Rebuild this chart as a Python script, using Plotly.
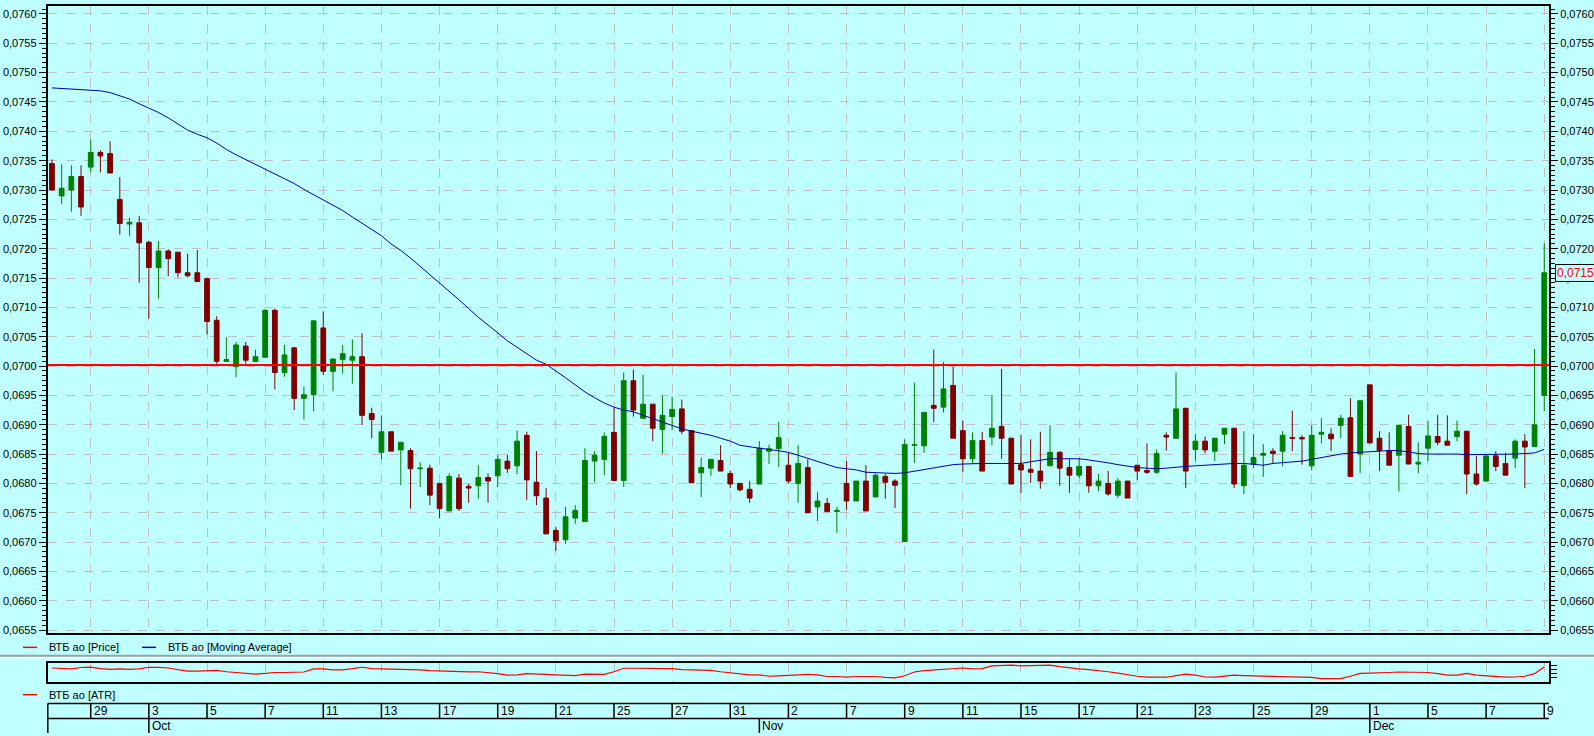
import plotly.graph_objects as go

# ---------------- data (prices in units of 1e-5) ----------------
open_e5 = [7345, 7290, 7300, 7323, 7339, 7364, 7362, 7284, 7242, 7244,
           7211, 7168, 7196, 7194, 7159, 7159, 7149, 7078, 7008, 6999,
           7034, 7008, 7015, 7095, 6989, 7031, 6945, 6951, 7065, 6991,
           7011, 7010, 7016, 6919, 6853, 6888, 6857, 6856, 6825, 6826,
           6800, 6753, 6809, 6795, 6796, 6810, 6813, 6838, 6830, 6882,
           6802, 6775, 6720, 6704, 6741, 6735, 6838, 6841, 6887, 6805,
           6975, 6911, 6935, 6892, 6914, 6927, 6890, 6818, 6826, 6839,
           6817, 6800, 6790, 6799, 6855, 6859, 6831, 6800, 6827, 6760,
           6766, 6752, 6800, 6770, 6804, 6777, 6812, 6804, 6701, 6865,
           6864, 6933, 6930, 6967, 6890, 6842, 6873, 6879, 6897, 6877,
           6832, 6824, 6821, 6830, 6853, 6827, 6814, 6829, 6796, 6800,
           6780, 6804, 6831, 6822, 6819, 6882, 6877, 6928, 6858, 6872,
           6855, 6884, 6894, 6796, 6833, 6848, 6855, 6855, 6878, 6878,
           6830, 6884, 6884, 6899, 6912, 6850, 6968, 6877, 6856, 6848,
           6897, 6833, 6860, 6880, 6872, 6880, 6889, 6816, 6804, 6847,
           6834, 6843, 6872, 6863, 6950]
high_e5 = [7352, 7344, 7342, 7342, 7386, 7368, 7383, 7322, 7253, 7256,
           7213, 7213, 7199, 7194, 7191, 7198, 7149, 7085, 7049, 7041,
           7041, 7028, 7097, 7098, 7036, 7032, 6965, 7078, 7093, 7012,
           7036, 7045, 7056, 6929, 6916, 6888, 6870, 6860, 6836, 6832,
           6800, 6817, 6816, 6799, 6831, 6817, 6849, 6849, 6890, 6888,
           6855, 6792, 6726, 6760, 6763, 6860, 6855, 6887, 6929, 6989,
           6994, 6985, 6935, 6950, 6948, 6943, 6890, 6844, 6841, 6865,
           6822, 6801, 6804, 6872, 6866, 6905, 6853, 6865, 6841, 6785,
           6775, 6760, 6838, 6804, 6831, 6817, 6816, 6807, 6875, 6972,
           6921, 7028, 7007, 6999, 6907, 6887, 6888, 6950, 6995, 6878,
           6883, 6875, 6888, 6899, 6855, 6841, 6843, 6829, 6816, 6821,
           6809, 6804, 6831, 6868, 6858, 6887, 6989, 6929, 6884, 6880,
           6877, 6894, 6894, 6889, 6884, 6867, 6860, 6889, 6924, 6882,
           6899, 6911, 6894, 6917, 6945, 6941, 6968, 6889, 6887, 6899,
           6917, 6870, 6906, 6917, 6916, 6907, 6889, 6847, 6847, 6855,
           6852, 6875, 6884, 7029, 7209]
low_e5 = [7300, 7276, 7263, 7256, 7330, 7330, 7329, 7224, 7222, 7142,
          7081, 7115, 7153, 7151, 7151, 7144, 7054, 7004, 7008, 6981,
          7004, 7008, 7015, 6960, 6982, 6925, 6909, 6923, 6985, 6957,
          6987, 6970, 6900, 6877, 6841, 6855, 6797, 6757, 6794, 6763,
          6741, 6753, 6753, 6767, 6774, 6767, 6794, 6818, 6816, 6772,
          6763, 6714, 6685, 6697, 6731, 6735, 6802, 6814, 6805, 6794,
          6914, 6911, 6872, 6851, 6891, 6884, 6801, 6777, 6813, 6821,
          6792, 6786, 6767, 6799, 6833, 6828, 6800, 6767, 6750, 6736,
          6752, 6716, 6755, 6770, 6753, 6777, 6774, 6758, 6701, 6835,
          6852, 6904, 6921, 6877, 6819, 6834, 6821, 6865, 6842, 6799,
          6784, 6801, 6791, 6830, 6796, 6784, 6809, 6784, 6787, 6779,
          6775, 6775, 6806, 6816, 6816, 6856, 6877, 6792, 6838, 6851,
          6838, 6867, 6792, 6782, 6826, 6811, 6834, 6829, 6855, 6832,
          6822, 6868, 6855, 6877, 6812, 6818, 6869, 6821, 6831, 6786,
          6833, 6817, 6838, 6865, 6865, 6872, 6782, 6796, 6804, 6821,
          6814, 6826, 6792, 6863, 6923]
close_e5 = [7300, 7303, 7323, 7271, 7364, 7358, 7329, 7243, 7245, 7210,
            7168, 7196, 7183, 7159, 7154, 7144, 7076, 7008, 7011, 7036,
            7010, 7016, 7095, 6989, 7019, 6945, 6951, 7077, 6991, 7012,
            7021, 7016, 6916, 6909, 6888, 6855, 6870, 6825, 6826, 6780,
            6757, 6812, 6757, 6792, 6810, 6804, 6841, 6825, 6872, 6806,
            6779, 6714, 6702, 6743, 6754, 6839, 6848, 6880, 6805, 6975,
            6925, 6935, 6894, 6916, 6926, 6889, 6801, 6827, 6841, 6821,
            6799, 6789, 6775, 6860, 6859, 6878, 6804, 6834, 6750, 6770,
            6752, 6754, 6770, 6804, 6753, 6814, 6802, 6797, 6866, 6866,
            6921, 6928, 6961, 6877, 6842, 6873, 6821, 6894, 6877, 6799,
            6823, 6819, 6804, 6853, 6826, 6814, 6829, 6796, 6804, 6782,
            6804, 6775, 6821, 6819, 6851, 6879, 6927, 6821, 6872, 6857,
            6877, 6894, 6799, 6831, 6844, 6851, 6851, 6882, 6877, 6876,
            6882, 6887, 6876, 6911, 6812, 6941, 6869, 6856, 6831, 6899,
            6833, 6836, 6881, 6870, 6865, 6889, 6816, 6799, 6847, 6829,
            6814, 6872, 6862, 6900, 7159]
ma_e5 = [7474, 7473, 7472, 7472, 7470, 7469, 7466, 7461, 7455, 7447,
         7440, 7432, 7423, 7412, 7402, 7395, 7389, 7380, 7369, 7360,
         7352, 7344, 7336, 7328, 7320, 7311, 7301, 7292, 7283, 7275,
         7265, 7254, 7243, 7232, 7222, 7208, 7197, 7184, 7170, 7156,
         7142, 7128, 7113, 7098, 7083, 7070, 7056, 7043, 7032, 7021,
         7010, 7003, 6992, 6980, 6968, 6956, 6946, 6937, 6930, 6925,
         6922, 6916, 6910, 6905, 6899, 6893, 6889, 6886, 6882, 6877,
         6872, 6865, 6862, 6860, 6858, 6856, 6853, 6848, 6843, 6837,
         6832, 6827, 6825, 6823, 6819, 6818, 6817, 6817, 6818, 6821,
         6823, 6826, 6830, 6832, 6833, 6834, 6834, 6834, 6834, 6834,
         6834, 6837, 6839, 6842, 6842, 6842, 6842, 6840, 6838, 6835,
         6832, 6829, 6827, 6826, 6825, 6826, 6828, 6829, 6830, 6831,
         6832, 6834, 6834, 6834, 6832, 6831, 6834, 6835, 6837, 6838,
         6841, 6844, 6848, 6850, 6852, 6853, 6855, 6856, 6856, 6856,
         6853, 6851, 6850, 6850, 6851, 6850, 6849, 6849, 6849, 6849,
         6849, 6850, 6851, 6852, 6858]
atr_e5 = [68, 65, 64, 70, 72, 65, 62, 64, 62, 64,
          71, 71, 68, 61, 55, 55, 55, 58, 52, 48,
          44, 42, 45, 49, 49, 49, 51, 64, 64, 60,
          60, 65, 71, 65, 64, 64, 64, 62, 60, 57,
          55, 54, 54, 52, 52, 49, 44, 38, 39, 44,
          44, 41, 39, 38, 36, 42, 42, 41, 52, 67,
          67, 67, 64, 67, 65, 61, 61, 61, 58, 52,
          48, 42, 39, 39, 33, 35, 38, 41, 41, 39,
          32, 32, 29, 32, 33, 32, 28, 26, 35, 51,
          57, 60, 65, 68, 68, 64, 65, 77, 78, 80,
          77, 78, 80, 80, 74, 68, 64, 61, 58, 52,
          46, 39, 33, 29, 28, 29, 36, 42, 38, 30,
          29, 33, 38, 36, 35, 33, 32, 32, 32, 32,
          28, 23, 23, 23, 33, 45, 46, 46, 49, 51,
          51, 51, 49, 44, 38, 38, 45, 38, 35, 29,
          29, 30, 33, 44, 72]
day_labels = ['29', '3', '5', '7', '11', '13', '17', '19', '21', '25', '27', '31', '2',
              '7', '9', '11', '15', '17', '21', '23', '25', '29', '1', '5', '7', '9']
day_tick_idx = [4, 10, 16, 22, 28, 34, 40, 46, 52, 58, 64, 70, 76,
                82, 88, 94, 100, 106, 112, 118, 124, 130, 136, 142, 148, 154]
month_labels = ['Oct', 'Nov', 'Dec']
month_idx = [10, 73, 136]
level_price = 0.07002
last_price_text = '0,07159'
legend_names = ['ВТБ ао [Price]', 'ВТБ ао [Moving Average]', 'ВТБ ао [ATR]']

# ---------------- derived ----------------
S = 1e-5
N = len(close_e5)
idx = list(range(N))
o = [v * S for v in open_e5]
h = [v * S for v in high_e5]
l = [v * S for v in low_e5]
c = [v * S for v in close_e5]
ma = [v * S for v in ma_e5]
atr = [v * S for v in atr_e5]

W, H = 1594, 736
XL, XR = 47.8, 1549.0


def fx(px):
    return px / W


def fy(py):
    return 1 - py / H


BG = '#C0FFFF'
GRID = '#C0C0C0'
FONT = 'Liberation Sans, Arial, sans-serif'
GREEN = '#008000'
MAROON = '#800000'
NAVY = '#0000A0'
RED = '#FF0000'

fig = go.Figure()
fig.add_trace(go.Candlestick(
    x=idx, open=o, high=h, low=l, close=c,
    increasing=dict(line=dict(color=GREEN, width=1), fillcolor=GREEN),
    decreasing=dict(line=dict(color=MAROON, width=1), fillcolor=MAROON),
    whiskerwidth=0, xaxis='x', yaxis='y', showlegend=False, name=legend_names[0]))
fig.add_trace(go.Scatter(x=idx, y=ma, mode='lines', line=dict(color=NAVY, width=1),
                         xaxis='x', yaxis='y', showlegend=False, name=legend_names[1]))
fig.add_trace(go.Scatter(x=[idx[-1]], y=[c[-1]], mode='markers', marker=dict(opacity=0),
                         xaxis='x', yaxis='y2', showlegend=False, hoverinfo='skip'))
fig.add_trace(go.Scatter(x=idx, y=atr, mode='lines', line=dict(color=RED, width=1.2),
                         xaxis='x2', yaxis='y3', showlegend=False, name=legend_names[2]))

xrange = [-0.43, N - 1 + 0.49]
yrange = [0.065444, 0.076136]
ytick = dict(tick0=0.0655, dtick=0.0005, tickformat='.4f', ticks='outside', ticklen=7,
             tickcolor='black', tickwidth=1, tickfont=dict(family=FONT, size=11, color='black'),
             minor=dict(ticks='outside', ticklen=4, tickcolor='black', dtick=0.0005 / 6,
                        tick0=0.0655, showgrid=False))

common_x = dict(range=xrange, tickmode='array', tickvals=day_tick_idx, showticklabels=False,
                ticks='', showgrid=True, gridcolor=GRID, griddash='dash', gridwidth=1,
                showline=True, linecolor='black', linewidth=2, mirror=True, zeroline=False,
                fixedrange=True)

fig.update_layout(
    width=W, height=H, autosize=False,
    margin=dict(l=0, r=0, t=0, b=0, pad=0),
    paper_bgcolor=BG, plot_bgcolor=BG,
    separators=', ',
    font=dict(family=FONT, size=11, color='black'),
    showlegend=False,
    xaxis=dict(domain=[fx(XL), fx(XR)], anchor='y', rangeslider=dict(visible=False), **common_x),
    yaxis=dict(domain=[fy(636), fy(6)], range=yrange, side='left', anchor='x',
               showgrid=True, gridcolor=GRID, griddash='dash', gridwidth=1,
               showline=True, linecolor='black', linewidth=2, zeroline=False,
               fixedrange=True, **ytick),
    yaxis2=dict(overlaying='y', range=yrange, side='right', anchor='x', showgrid=False,
                showline=True, linecolor='black', linewidth=2, zeroline=False,
                fixedrange=True, **ytick),
    xaxis2=dict(domain=[fx(XL), fx(XR)], anchor='y3', **common_x),
    yaxis3=dict(domain=[fy(684.5), fy(665.5)], range=[10 * S, 90 * S], anchor='x2', side='right',
                tickmode='array', tickvals=[27 * S, 44 * S, 61 * S, 78 * S], ticks='outside',
                ticklen=6, tickcolor='black', showticklabels=False, showgrid=False,
                showline=True, linecolor='black', linewidth=2, mirror=True, zeroline=False,
                fixedrange=True),
)

shapes = []
# horizontal level line
shapes.append(dict(type='line', xref='x domain', x0=0, x1=1, yref='y', y0=level_price,
                   y1=level_price, line=dict(color=RED, width=2)))
# separator between panels
shapes.append(dict(type='line', xref='paper', x0=0, x1=1, yref='paper', y0=fy(658.5), y1=fy(658.5),
                   line=dict(color='#A0A0A0', width=2)))
shapes.append(dict(type='line', xref='paper', x0=0, x1=1, yref='paper', y0=fy(660.5), y1=fy(660.5),
                   line=dict(color='#FFFFFF', width=1)))
# legend swatches
for (x0, x1, yy, col) in [(23, 37, 650, RED), (142, 156, 650, NAVY), (23, 37, 697.5, RED)]:
    shapes.append(dict(type='line', xref='paper', x0=fx(x0), x1=fx(x1), yref='paper',
                       y0=fy(yy), y1=fy(yy), line=dict(color=col, width=1.5)))
# date table
TOP, MID, BOT = 706.5, 721.5, 736
shapes.append(dict(type='line', xref='paper', x0=fx(XL), x1=fx(XR), yref='paper',
                   y0=fy(TOP), y1=fy(TOP), line=dict(color='black', width=1.5)))
shapes.append(dict(type='line', xref='paper', x0=fx(XL), x1=fx(XR), yref='paper',
                   y0=fy(MID), y1=fy(MID), line=dict(color='black', width=1.5)))
shapes.append(dict(type='line', xref='paper', x0=fx(XL), x1=fx(XL), yref='paper',
                   y0=fy(TOP), y1=fy(BOT), line=dict(color='black', width=1.5)))
for t in day_tick_idx:
    shapes.append(dict(type='line', xref='x', x0=t, x1=t, yref='paper', y0=fy(TOP), y1=fy(MID),
                       line=dict(color='black', width=1.5)))
for m in month_idx:
    shapes.append(dict(type='line', xref='x', x0=m, x1=m, yref='paper', y0=fy(MID), y1=fy(BOT),
                       line=dict(color='black', width=1.5)))

annotations = []
for (xp, txt, yy) in [(47, legend_names[0], 650), (166, legend_names[1], 650), (47, legend_names[2], 697.5)]:
    annotations.append(dict(xref='paper', yref='paper', x=fx(xp), y=fy(yy), text=txt, showarrow=False,
                            xanchor='left', yanchor='middle', font=dict(family=FONT, size=11, color='black')))
for t, lab in zip(day_tick_idx, day_labels):
    annotations.append(dict(xref='x', yref='paper', x=t, y=fy(714), text=lab, showarrow=False,
                            xanchor='left', yanchor='middle', xshift=1,
                            font=dict(family=FONT, size=12, color='black')))
for m, lab in zip(month_idx, month_labels):
    annotations.append(dict(xref='x', yref='paper', x=m, y=fy(729), text=lab, showarrow=False,
                            xanchor='left', yanchor='middle', xshift=1,
                            font=dict(family=FONT, size=12, color='black')))
annotations.append(dict(xref='paper', yref='y', x=fx(1555), y=c[-1], text=last_price_text,
                        showarrow=False, xanchor='left', yanchor='middle',
                        font=dict(family=FONT, size=12, color=RED),
                        bordercolor='black', borderwidth=1, borderpad=1, bgcolor=BG))

fig.update_layout(shapes=shapes, annotations=annotations)

fig.write_html("out.html", config={'displayModeBar': False},
               post_script="document.body.style.margin='0';document.body.style.overflow='hidden';")
